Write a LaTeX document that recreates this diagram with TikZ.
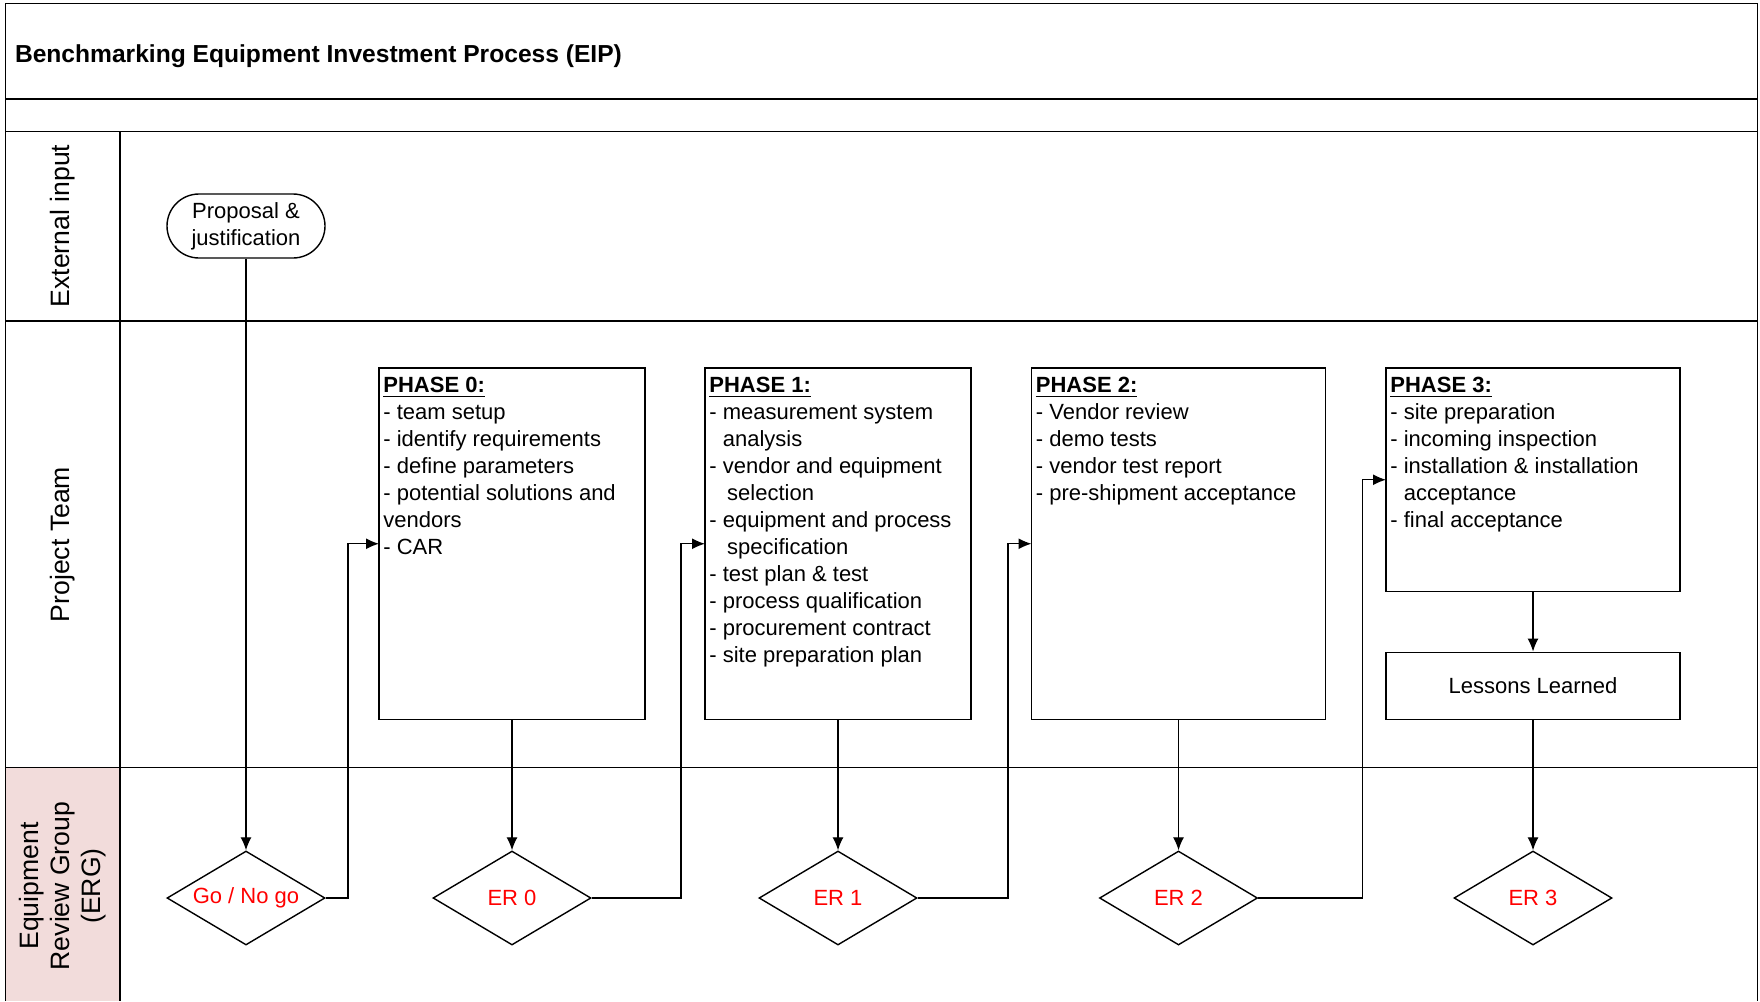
\documentclass[tikz,border=0pt]{standalone}
\usepackage{fontspec}
\setmainfont{Liberation Sans}
\usepackage{xcolor}
\usetikzlibrary{shapes,arrows.meta,positioning,calc}

\definecolor{ergpink}{HTML}{F2DCDB}
\definecolor{ergred}{RGB}{255,0,0}

\newcommand{\phasehead}[1]{\textbf{\underline{#1}}}
\newcommand{\phasebody}[3]{\parbox[t][#1][t]{#2}{\strut#3}}

\tikzset{
  lane/.style={line width=0.7pt},
  lanelabel/.style={rotate=90, align=center, font=\fontsize{13.3}{15.4}\selectfont},
  phase/.style={draw, line width=0.7pt, anchor=north west, outer sep=0pt, inner xsep=2.2pt,
    inner ysep=3pt, font=\fontsize{11}{13.5}\selectfont},
  startbox/.style={draw, line width=0.7pt, rounded corners=16pt, minimum width=79pt,
    minimum height=32pt, align=center, inner sep=1pt, font=\fontsize{11}{13.5}\selectfont},
  lessons/.style={draw, line width=0.7pt, minimum width=147pt, minimum height=33.75pt,
    font=\fontsize{11}{13.5}\selectfont},
  review/.style={draw, diamond, aspect=1.68, line width=0.7pt, inner sep=0pt,
    minimum width=79pt, minimum height=47pt, text=ergred, font=\fontsize{11}{13.5}\selectfont},
  flow/.style={->, line width=0.65pt},
  >={Latex[length=6.5pt,width=5.5pt]}
}

\begin{document}
\begin{tikzpicture}[x=0.5pt,y=-0.5pt]
    \useasboundingbox (0,0) rectangle (1760,1001);

    % Pool and lanes
    \fill[ergpink] (5.6,767.7) rectangle (120,1001);
    \draw[lane] (5.6,1001) -- (5.6,3.4) -- (1757.7,3.4) -- (1757.7,1001);
    \foreach \y in {99,131.3,321,767.7} {
        \draw[lane] (5.6,\y) -- (1757.7,\y);
    }
    \draw[lane] (120,131.3) -- (120,1001);

    % Title
    \node[anchor=west, inner sep=0pt, font=\fontsize{12.3}{14}\selectfont\bfseries] (title) at (14.6,56)
        {Benchmarking Equipment Investment Process (EIP)};

    % Lane labels
    \node[lanelabel] (extlbl) at (62.8,226) {External input};
    \node[lanelabel] (teamlbl) at (62.8,544.5) {Project Team};
    \node[lanelabel] (erglbl) at (62.8,886) {Equipment\\Review Group\\(ERG)};

    % Start
    \node[startbox] (prop) at (246,226) {Proposal \&\\justification};

    % Phases
    \node[phase] (ph0) at (379,368) {\phasebody{169.75pt}{128.6pt}{%
        \phasehead{PHASE 0:}\\
        - team setup\\
        - identify requirements\\
        - define parameters\\
        - potential solutions and\\
        vendors\\
        - CAR}};
    \node[phase] (ph1) at (705,368) {\phasebody{169.75pt}{128.6pt}{%
        \phasehead{PHASE 1:}\\
        - measurement system\\
        \phantom{- }analysis\\
        - vendor and equipment\\
        \phantom{- }\hspace{2.2pt}selection\\
        - equipment and process\\
        \phantom{- }\hspace{2.2pt}specification\\
        - test plan \& test\\
        - process qualification\\
        - procurement contract\\
        - site preparation plan}};
    \node[phase] (ph2) at (1031.5,368) {\phasebody{169.75pt}{142.6pt}{%
        \phasehead{PHASE 2:}\\
        - Vendor review\\
        - demo tests\\
        - vendor test report\\
        - pre-shipment acceptance}};
    \node[phase] (ph3) at (1386,368) {\phasebody{105.75pt}{142.6pt}{%
        \phasehead{PHASE 3:}\\
        - site preparation\\
        - incoming inspection\\
        - installation \& installation\\
        \phantom{- }acceptance\\
        - final acceptance}};
    \node[lessons] (lessons) at (1533,686) {Lessons Learned};

    % Reviews
    \node[review] (gng) at (246,898) {Go / No go};
    \node[review] (er0) at (512,898) {ER 0};
    \node[review] (er1) at (838,898) {ER 1};
    \node[review] (er2) at (1178.5,898) {ER 2};
    \node[review] (er3) at (1533,898) {ER 3};

    % Elbow columns
    \coordinate (k0) at (348,0);
    \coordinate (k1) at (681,0);
    \coordinate (k2) at (1008,0);
    \coordinate (k3) at (1362.6,0);

    % Flow
    \draw[flow] (prop.south) -- (gng.north);
    \draw[flow] (gng.east) -- (gng.east -| k0) |- (ph0.west);
    \draw[flow] (ph0.south) -- (er0.north);
    \draw[flow] (er0.east) -- (er0.east -| k1) |- (ph1.west);
    \draw[flow] (ph1.south) -- (er1.north);
    \draw[flow] (er1.east) -- (er1.east -| k2) |- (ph2.west);
    \draw[flow] (ph2.south) -- (er2.north);
    \draw[flow] (er2.east) -- (er2.east -| k3) |- (ph3.west);
    \draw[flow] (ph3.south) -- (lessons.north);
    \draw[flow] (lessons.south) -- (er3.north);
\end{tikzpicture}
\end{document}
